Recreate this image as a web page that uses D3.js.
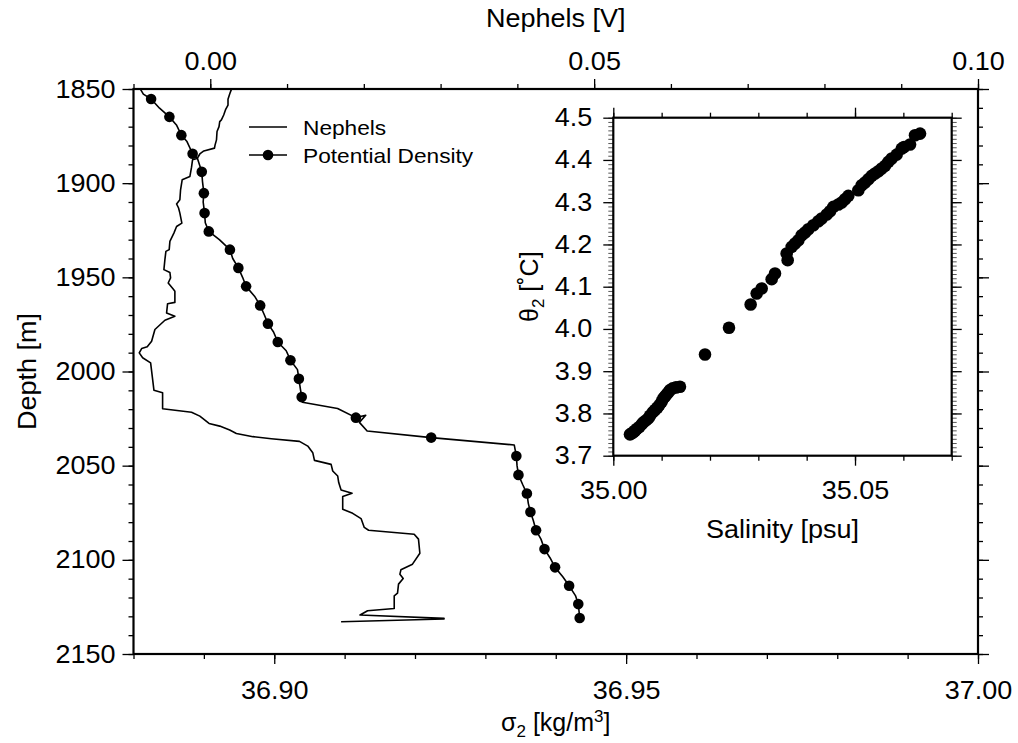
<!DOCTYPE html>
<html>
<head>
<meta charset="utf-8">
<script src="https://cdn.jsdelivr.net/npm/d3@7"></script>
<style>
  body { margin: 0; background: #fff; }
  text { font-family: "Liberation Sans", Arial, Helvetica, sans-serif; fill: #000; }
</style>
</head>
<body>
<svg id="chart" width="1018" height="743"></svg>
<script>
// Nephels profile: [depth m, volts]
const nephels = [
  [1850.2, 0.00275], [1852.7, 0.00253], [1855.5, 0.00231], [1858.5, 0.00231], [1860.8, 0.00201],
  [1863.8, 0.00175], [1866.4, 0.00145], [1867.3, 0.00123], [1870.0, 0.00114], [1872.6, 0.00088],
  [1877.0, 0.00081], [1879.8, 0.00062], [1881.4, 0.00055], [1882.9, -0.00084], [1884.5, -0.00136],
  [1886.9, -0.00171], [1887.6, -0.00231], [1891.5, -0.00244], [1896.5, -0.00266], [1898.2, -0.00366],
  [1903.5, -0.00387], [1908.8, -0.00396], [1911.0, -0.00439], [1913.2, -0.00413], [1915.9, -0.00396],
  [1921.2, -0.00370], [1923.0, -0.00439], [1926.5, -0.00474], [1930.9, -0.00526], [1935.3, -0.00535],
  [1936.2, -0.00578], [1940.6, -0.00591], [1945.9, -0.00604], [1947.4, -0.00526], [1950.3, -0.00517],
  [1953.0, -0.00548], [1956.2, -0.00483], [1957.4, -0.00461], [1963.3, -0.00461], [1964.0, -0.00556],
  [1968.9, -0.00569], [1970.7, -0.00461], [1972.8, -0.00591], [1977.7, -0.00721], [1983.9, -0.00764],
  [1986.9, -0.00821], [1987.8, -0.00894], [1990.1, -0.00925], [1992.7, -0.00881], [1995.4, -0.00777],
  [2002.5, -0.00756], [2009.9, -0.00734], [2011.3, -0.00621], [2019.8, -0.00621], [2021.6, -0.00244],
  [2023.7, -0.00136], [2027.6, -0.00016], [2029.0, 0.00123], [2031.1, 0.00253], [2032.9, 0.00340],
  [2034.6, 0.00556], [2035.7, 0.00795], [2037.1, 0.01162], [2039.6, 0.01270], [2043.1, 0.01335],
  [2047.2, 0.01357], [2049.3, 0.01574], [2052.8, 0.01595], [2055.5, 0.01660], [2059.0, 0.01673],
  [2062.9, 0.01704], [2064.7, 0.01847], [2066.4, 0.01725], [2073.1, 0.01725], [2075.3, 0.01855],
  [2078.1, 0.01964], [2082.8, 0.02006], [2084.3, 0.02062], [2086.4, 0.02656], [2089.0, 0.02712],
  [2096.5, 0.02730], [2102.3, 0.02634], [2105.3, 0.02483], [2107.6, 0.02470], [2109.9, 0.02513],
  [2112.9, 0.02452], [2117.7, 0.02439], [2119.1, 0.02396], [2125.8, 0.02396], [2127.0, 0.02049],
  [2129.3, 0.01951], [2131.1, 0.03045], [2131.4, 0.03045], [2132.9, 0.01704]
];

// Potential density profile line: [depth m, sigma2]
const densityLine = [
  [1850.2, 36.8810], [1852.7, 36.8814], [1855.3, 36.8825], [1860.2, 36.8837], [1864.8, 36.8851],
  [1869.1, 36.8861], [1874.5, 36.8868], [1877.9, 36.8876], [1884.4, 36.8884], [1887.0, 36.8891],
  [1894.0, 36.8897], [1899.0, 36.8898], [1905.3, 36.8900], [1910.0, 36.8899], [1915.9, 36.8901],
  [1921.0, 36.8902], [1925.6, 36.8907], [1930.0, 36.8922], [1935.3, 36.8937], [1940.0, 36.8941],
  [1945.0, 36.8949], [1950.0, 36.8955], [1954.8, 36.8960], [1960.0, 36.8972], [1964.9, 36.8980],
  [1970.0, 36.8986], [1974.6, 36.8991], [1979.0, 36.8999], [1984.3, 36.9005], [1989.0, 36.9017],
  [1994.0, 36.9023], [1999.0, 36.9033], [2003.9, 36.9035], [2009.0, 36.9037], [2013.6, 36.9039],
  [2016.3, 36.9040], [2019.6, 36.9090], [2024.5, 36.9116], [2023.2, 36.9130], [2027.0, 36.9121],
  [2031.6, 36.9132], [2035.1, 36.9223], [2039.0, 36.9341], [2044.9, 36.9344], [2050.0, 36.9345],
  [2054.9, 36.9347], [2060.0, 36.9353], [2064.8, 36.9359], [2070.0, 36.9361], [2074.6, 36.9364],
  [2079.0, 36.9368], [2084.3, 36.9372], [2089.0, 36.9379], [2094.3, 36.9384], [2099.0, 36.9392],
  [2104.0, 36.9399], [2109.0, 36.9410], [2113.8, 36.9419], [2119.0, 36.9428], [2123.5, 36.9432],
  [2127.0, 36.9433], [2130.9, 36.9434]
];

// Potential density sample points: [depth m, sigma2]
const densityDots = [
  [1855.3, 36.8825], [1864.8, 36.8851], [1874.5, 36.8868], [1884.4, 36.8884], [1894.0, 36.8897],
  [1905.3, 36.8900], [1915.9, 36.8901], [1925.6, 36.8907], [1935.3, 36.8937], [1945.0, 36.8949],
  [1954.8, 36.8960], [1964.9, 36.8980], [1974.6, 36.8991], [1984.3, 36.9005], [1994.0, 36.9023],
  [2003.9, 36.9035], [2013.6, 36.9039], [2024.5, 36.9116], [2035.1, 36.9223], [2044.9, 36.9344],
  [2054.9, 36.9347], [2064.8, 36.9359], [2074.6, 36.9364], [2084.3, 36.9372], [2094.3, 36.9384],
  [2104.0, 36.9399], [2113.8, 36.9419], [2123.5, 36.9432], [2130.9, 36.9434]
];

// Inset theta-S points: [salinity psu, theta2 C]
const tsPoints = [
  [35.00345, 3.7505], [35.00379, 3.7528], [35.00414, 3.7552], [35.00448, 3.7591], [35.00483, 3.7631],
  [35.00538, 3.7678], [35.00586, 3.7741], [35.00621, 3.7788], [35.00676, 3.7836], [35.00724, 3.7883],
  [35.00759, 3.7946], [35.00814, 3.8025], [35.00862, 3.8080], [35.00910, 3.8135], [35.00952, 3.8198],
  [35.01000, 3.8277], [35.01034, 3.8356], [35.01069, 3.8403], [35.01103, 3.8451], [35.01138, 3.8498],
  [35.01172, 3.8553], [35.01228, 3.8593], [35.01297, 3.8616], [35.01379, 3.8632], [35.01897, 3.9397],
  [35.02393, 4.0027], [35.02841, 4.0579], [35.02966, 4.0839], [35.03069, 4.0958], [35.03276, 4.1179],
  [35.03345, 4.1313], [35.03607, 4.1628], [35.03586, 4.1786], [35.03690, 4.1943], [35.03759, 4.2022],
  [35.03828, 4.2101], [35.03897, 4.2219], [35.03966, 4.2282], [35.04034, 4.2361], [35.04138, 4.2456],
  [35.04241, 4.2550], [35.04310, 4.2613], [35.04414, 4.2708], [35.04483, 4.2787], [35.04552, 4.2889],
  [35.04655, 4.2945], [35.04724, 4.2992], [35.04793, 4.3071], [35.04862, 4.3150], [35.05069, 4.3284],
  [35.05138, 4.3402], [35.05207, 4.3465], [35.05276, 4.3544], [35.05345, 4.3623], [35.05414, 4.3678],
  [35.05483, 4.3733], [35.05552, 4.3796], [35.05621, 4.3859], [35.05690, 4.3954], [35.05759, 4.4033],
  [35.05862, 4.4127], [35.05966, 4.4269], [35.06014, 4.4308], [35.06138, 4.4364], [35.06241, 4.4584],
  [35.06345, 4.4624]
];

// Tick labels
const depthTicks = [1850, 1900, 1950, 2000, 2050, 2100, 2150];
const sigmaTicks = [36.90, 36.95, 37.00];
const nephTicks = [0.00, 0.05, 0.10];
const salTicks = [35.00, 35.05];
const thetaTicks = [3.7, 3.8, 3.9, 4.0, 4.1, 4.2, 4.3, 4.4, 4.5];

const svg = d3.select("#chart");
const FS = 25;

// main frame
const main = { left: 133.5, right: 978, top: 89, bottom: 654 };

const y = d3.scaleLinear().domain([1850, 2150]).range([main.top, main.bottom]);
const xSig = d3.scaleLinear().domain([36.88, 37.00]).range([main.left, main.right]);
const xNeph = d3.scaleLinear().domain([-0.01, 0.10]).range([main.left, main.right]);

function styleAxis(g, size) {
  g.select(".domain").remove();
  g.selectAll("line").attr("stroke", "#000").attr("stroke-width", 1.3);
  g.selectAll("text").style("font-size", size + "px").style("font-family", '"Liberation Sans", Arial, sans-serif');
}

const minorDepth = d3.range(1850, 2151, 10);
const minorSig = d3.range(0, 13).map(i => 36.88 + i * 0.01);
const minorNeph = d3.range(0, 12).map(i => -0.01 + i * 0.01);

// minor ticks
svg.append("g").attr("transform", `translate(${main.left},0)`)
  .call(d3.axisLeft(y).tickValues(minorDepth).tickSize(5).tickFormat(""))
  .call(g => styleAxis(g, FS));
svg.append("g").attr("transform", `translate(${main.right},0)`)
  .call(d3.axisRight(y).tickValues(minorDepth).tickSize(5).tickFormat(""))
  .call(g => styleAxis(g, FS));
svg.append("g").attr("transform", `translate(0,${main.bottom})`)
  .call(d3.axisBottom(xSig).tickValues(minorSig).tickSize(5).tickFormat(""))
  .call(g => styleAxis(g, FS));
svg.append("g").attr("transform", `translate(0,${main.top})`)
  .call(d3.axisTop(xNeph).tickValues(minorNeph).tickSize(5).tickFormat(""))
  .call(g => styleAxis(g, FS));

// major ticks + labels
svg.append("g").attr("transform", `translate(${main.left},0)`)
  .call(d3.axisLeft(y).tickValues(depthTicks).tickSize(11).tickPadding(7).tickFormat(d3.format("d")))
  .call(g => styleAxis(g, FS));
svg.append("g").attr("transform", `translate(${main.right},0)`)
  .call(d3.axisRight(y).tickValues(depthTicks).tickSize(11).tickFormat(""))
  .call(g => styleAxis(g, FS));
svg.append("g").attr("transform", `translate(0,${main.bottom})`)
  .call(d3.axisBottom(xSig).tickValues(sigmaTicks).tickSize(10).tickPadding(17).tickFormat(d3.format(".2f")))
  .call(g => styleAxis(g, FS));
svg.append("g").attr("transform", `translate(0,${main.top})`)
  .call(d3.axisTop(xNeph).tickValues(nephTicks).tickSize(10).tickPadding(9).tickFormat(d3.format(".2f")))
  .call(g => styleAxis(g, FS));

// frame
svg.append("rect")
  .attr("x", main.left).attr("y", main.top)
  .attr("width", main.right - main.left).attr("height", main.bottom - main.top)
  .attr("fill", "none").attr("stroke", "#000").attr("stroke-width", 2.2);

// nephels line
svg.append("path")
  .datum(nephels)
  .attr("fill", "none").attr("stroke", "#000").attr("stroke-width", 1.6)
  .attr("stroke-linejoin", "round")
  .attr("d", d3.line().x(d => xNeph(d[1])).y(d => y(d[0])));

// density line + dots
svg.append("path")
  .datum(densityLine)
  .attr("fill", "none").attr("stroke", "#000").attr("stroke-width", 1.6)
  .attr("stroke-linejoin", "round")
  .attr("d", d3.line().x(d => xSig(d[1])).y(d => y(d[0])));

svg.append("g").selectAll("circle")
  .data(densityDots)
  .enter().append("circle")
  .attr("cx", d => xSig(d[1]))
  .attr("cy", d => y(d[0]))
  .attr("r", 5.3)
  .attr("fill", "#000");

// axis titles
svg.append("text")
  .attr("x", (main.left + main.right) / 2).attr("y", 27)
  .attr("text-anchor", "middle").style("font-size", FS + "px")
  .text("Nephels [V]");

const sigLabel = svg.append("text")
  .attr("x", (main.left + main.right) / 2).attr("y", 731)
  .attr("text-anchor", "middle").style("font-size", FS + "px");
sigLabel.append("tspan").text("σ");
sigLabel.append("tspan").attr("dy", 6).style("font-size", "17px").text("2");
sigLabel.append("tspan").attr("dy", -6).text(" [kg/m");
sigLabel.append("tspan").attr("dy", -9).style("font-size", "17px").text("3");
sigLabel.append("tspan").attr("dy", 9).text("]");

svg.append("text")
  .attr("transform", `translate(36,${(main.top + main.bottom) / 2}) rotate(-90)`)
  .attr("text-anchor", "middle").style("font-size", FS + "px")
  .text("Depth [m]");

// legend
const legend = svg.append("g");
legend.append("line")
  .attr("x1", 249).attr("x2", 287).attr("y1", 127).attr("y2", 127)
  .attr("stroke", "#000").attr("stroke-width", 1.6);
legend.append("text").attr("x", 303).attr("y", 135).style("font-size", "21px").text("Nephels");
legend.append("line")
  .attr("x1", 249).attr("x2", 287).attr("y1", 155).attr("y2", 155)
  .attr("stroke", "#000").attr("stroke-width", 1.6);
legend.append("circle").attr("cx", 268).attr("cy", 155).attr("r", 5.3).attr("fill", "#000");
legend.append("text").attr("x", 303).attr("y", 163).style("font-size", "21px").text("Potential Density");

// inset theta-S diagram
const inset = { left: 613.3, right: 951.7, top: 117.7, bottom: 455.7 };
const sx = d3.scaleLinear().domain([35.00, 35.07]).range([inset.left, inset.right]);
const ty = d3.scaleLinear().domain([3.7, 4.5]).range([inset.bottom, inset.top]);

svg.append("rect")
  .attr("x", inset.left).attr("y", inset.top)
  .attr("width", inset.right - inset.left).attr("height", inset.bottom - inset.top)
  .attr("fill", "#fff");

const minorTheta = d3.range(0, 81).map(i => 3.7 + i * 0.01);
const minorSal = d3.range(0, 8).map(i => 35.00 + i * 0.01);

svg.append("g").attr("transform", `translate(${inset.left},0)`)
  .call(d3.axisLeft(ty).tickValues(minorTheta).tickSize(5).tickFormat(""))
  .call(g => styleAxis(g, FS)).call(g => g.selectAll("line").attr("stroke-width", 1).attr("stroke", "#555"));
svg.append("g").attr("transform", `translate(${inset.right},0)`)
  .call(d3.axisRight(ty).tickValues(minorTheta).tickSize(5).tickFormat(""))
  .call(g => styleAxis(g, FS)).call(g => g.selectAll("line").attr("stroke-width", 1).attr("stroke", "#555"));
svg.append("g").attr("transform", `translate(0,${inset.bottom})`)
  .call(d3.axisBottom(sx).tickValues(minorSal).tickSize(5).tickFormat(""))
  .call(g => styleAxis(g, FS));
svg.append("g").attr("transform", `translate(0,${inset.top})`)
  .call(d3.axisTop(sx).tickValues(minorSal).tickSize(5).tickFormat(""))
  .call(g => styleAxis(g, FS));

svg.append("g").attr("transform", `translate(${inset.left},0)`)
  .call(d3.axisLeft(ty).tickValues(thetaTicks).tickSize(10).tickPadding(11).tickFormat(d3.format(".1f")))
  .call(g => styleAxis(g, FS));
svg.append("g").attr("transform", `translate(${inset.right},0)`)
  .call(d3.axisRight(ty).tickValues(thetaTicks).tickSize(10).tickFormat(""))
  .call(g => styleAxis(g, FS));
svg.append("g").attr("transform", `translate(0,${inset.bottom})`)
  .call(d3.axisBottom(sx).tickValues(salTicks).tickSize(10).tickPadding(16).tickFormat(d3.format(".2f")))
  .call(g => styleAxis(g, FS));
svg.append("g").attr("transform", `translate(0,${inset.top})`)
  .call(d3.axisTop(sx).tickValues(salTicks).tickSize(10).tickFormat(""))
  .call(g => styleAxis(g, FS));

svg.append("rect")
  .attr("x", inset.left).attr("y", inset.top)
  .attr("width", inset.right - inset.left).attr("height", inset.bottom - inset.top)
  .attr("fill", "none").attr("stroke", "#000").attr("stroke-width", 2.2);

svg.append("g").selectAll("circle")
  .data(tsPoints)
  .enter().append("circle")
  .attr("cx", d => sx(d[0]))
  .attr("cy", d => ty(d[1]))
  .attr("r", 6.3)
  .attr("fill", "#000");

svg.append("text")
  .attr("x", (inset.left + inset.right) / 2).attr("y", 538)
  .attr("text-anchor", "middle").style("font-size", FS + "px")
  .text("Salinity [psu]");

const thLabel = svg.append("text")
  .attr("transform", `translate(538,${(inset.top + inset.bottom) / 2}) rotate(-90)`)
  .attr("text-anchor", "middle").style("font-size", FS + "px");
thLabel.append("tspan").text("θ");
thLabel.append("tspan").attr("dy", 6).style("font-size", "17px").text("2");
thLabel.append("tspan").attr("dy", -6).text(" [˚C]");

// the reference lettering is a little wider than Liberation Sans
svg.selectAll("text").each(function() {
  if (this.querySelector("tspan") || !this.textContent) return;
  const w = this.getComputedTextLength();
  d3.select(this).attr("textLength", w * 1.08).attr("lengthAdjust", "spacingAndGlyphs");
});
</script>
</body>
</html>
